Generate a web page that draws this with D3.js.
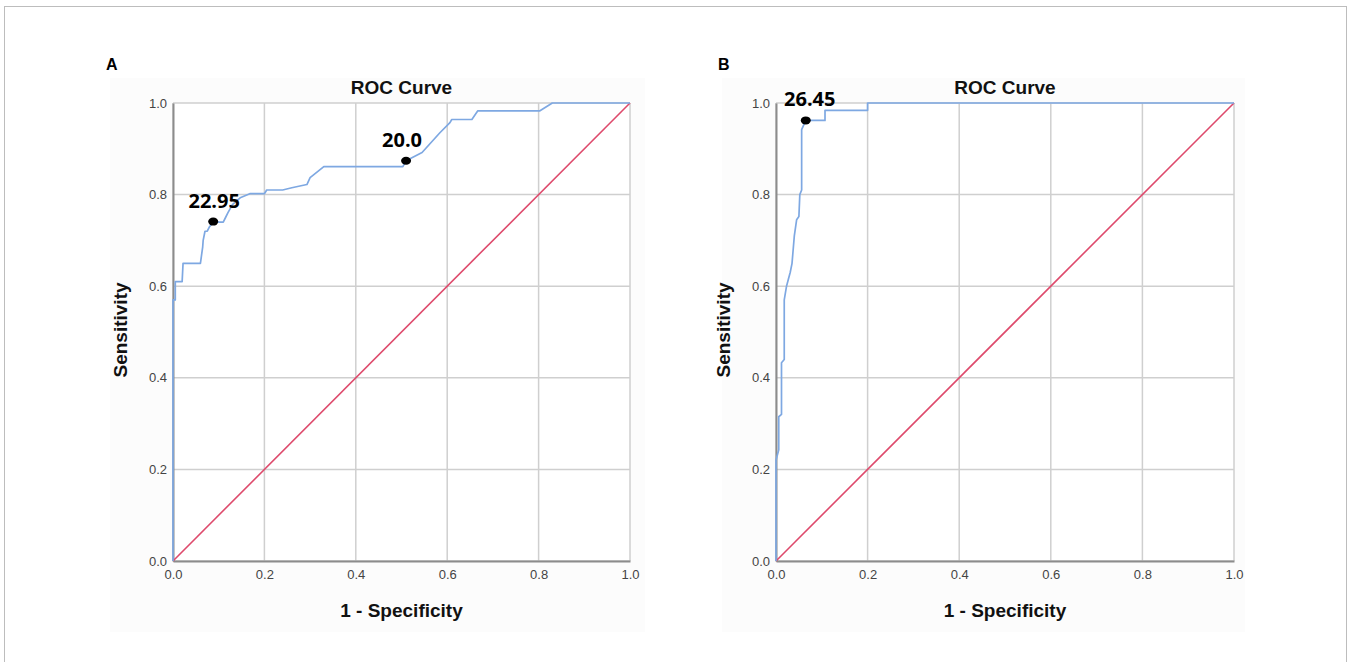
<!DOCTYPE html>
<html>
<head>
<meta charset="utf-8">
<script src="https://cdn.jsdelivr.net/npm/d3@7"></script>
<style>
  body { margin: 0; background: #fff; }
  svg { display: block; }
</style>
</head>
<body>
<svg width="1351" height="662"></svg>
<script>
// ROC points: [1 - specificity, sensitivity]
const rocA = [
  [0, 0], [0, 0.57], [0.005, 0.57], [0.005, 0.61], [0.02, 0.61], [0.022, 0.65],
  [0.06, 0.65], [0.065, 0.686], [0.066, 0.70], [0.07, 0.72], [0.075, 0.72],
  [0.08, 0.73], [0.088, 0.74], [0.11, 0.74], [0.115, 0.75], [0.12, 0.76],
  [0.13, 0.778], [0.147, 0.793], [0.168, 0.802], [0.2, 0.802], [0.205, 0.81],
  [0.24, 0.81], [0.26, 0.815], [0.293, 0.822], [0.30, 0.837], [0.33, 0.861],
  [0.503, 0.861], [0.51, 0.874], [0.545, 0.892], [0.584, 0.935], [0.606, 0.957],
  [0.61, 0.964], [0.654, 0.964], [0.667, 0.983], [0.803, 0.983], [0.83, 1], [1, 1]
];
const rocB = [
  [0, 0], [0, 0.22], [0.006, 0.243], [0.006, 0.315], [0.012, 0.32], [0.012, 0.433],
  [0.018, 0.44], [0.018, 0.57], [0.023, 0.6], [0.027, 0.615], [0.031, 0.63],
  [0.035, 0.65], [0.04, 0.71], [0.045, 0.745], [0.05, 0.752], [0.052, 0.80],
  [0.056, 0.81], [0.056, 0.942], [0.065, 0.962], [0.107, 0.962], [0.107, 0.984],
  [0.2, 0.984], [0.2, 1], [1, 1]
];
const reference = [[0, 0], [1, 1]];
// cut-off points marked on the curves
const cutsA = [{ x: 0.088, y: 0.741, label: "22.95" }, { x: 0.51, y: 0.874, label: "20.0" }];
const cutsB = [{ x: 0.065, y: 0.962, label: "26.45" }];
const ticks = [0, 0.2, 0.4, 0.6, 0.8, 1.0];

const svg = d3.select("svg");

// outer frame
svg.append("rect")
  .attr("x", 4.5).attr("y", 6.5)
  .attr("width", 1342).attr("height", 670)
  .attr("fill", "none").attr("stroke", "#bdbdbd").attr("stroke-width", 1);

function panel(letter, data, cuts, labelShift, left, right, bgX, bgW) {
  const top = 103, bottom = 561;
  const x = d3.scaleLinear().domain([0, 1]).range([left, right]);
  const y = d3.scaleLinear().domain([0, 1]).range([bottom, top]);
  const g = svg.append("g");

  g.append("rect")
    .attr("x", bgX).attr("y", 78).attr("width", bgW).attr("height", 554)
    .attr("fill", "#fcfcfc");
  g.append("rect")
    .attr("x", left).attr("y", top).attr("width", right - left).attr("height", bottom - top)
    .attr("fill", "#fff");

  g.append("text")
    .attr("x", bgX - 4).attr("y", 70)
    .attr("font-family", "Liberation Sans, Arial, sans-serif")
    .attr("font-size", "16px").attr("font-weight", "700")
    .text(letter);

  // grid
  g.selectAll(".vgrid").data(ticks).join("line")
    .attr("x1", (d) => x(d)).attr("x2", (d) => x(d))
    .attr("y1", top).attr("y2", bottom)
    .attr("stroke", "#cfcfcf").attr("stroke-width", 1.5);
  g.selectAll(".hgrid").data(ticks).join("line")
    .attr("class", "hgrid")
    .attr("x1", left).attr("x2", right)
    .attr("y1", (d) => y(d)).attr("y2", (d) => y(d))
    .attr("stroke", "#cfcfcf").attr("stroke-width", 1.5);

  // axes
  const xAxis = g.append("g")
    .attr("transform", `translate(0,${bottom})`)
    .call(d3.axisBottom(x).tickValues(ticks).tickFormat(d3.format(".1f")).tickSize(0).tickPadding(9));
  const yAxis = g.append("g")
    .attr("transform", `translate(${left},0)`)
    .call(d3.axisLeft(y).tickValues(ticks).tickFormat(d3.format(".1f")).tickSize(0).tickPadding(6));
  [xAxis, yAxis].forEach((a) => {
    a.select(".domain").attr("stroke", "#8c8c8c").attr("stroke-width", 2);
    a.selectAll("text")
      .attr("font-family", "Liberation Sans, Arial, sans-serif")
      .attr("font-size", "13px").attr("fill", "#444");
  });

  const line = d3.line().x((d) => x(d[0])).y((d) => y(d[1]));
  g.append("path").datum(reference)
    .attr("d", line).attr("fill", "none")
    .attr("stroke", "#de4a6c").attr("stroke-width", 1.6);
  g.append("path").datum(data)
    .attr("d", line).attr("fill", "none")
    .attr("stroke", "#7ea8e2").attr("stroke-width", 1.7)
    .attr("stroke-linejoin", "round");

  cuts.forEach((c, i) => {
    g.append("ellipse")
      .attr("cx", x(c.x)).attr("cy", y(c.y)).attr("rx", 5).attr("ry", 4)
      .attr("fill", "#000");
    g.append("text")
      .attr("x", x(c.x) + labelShift[i]).attr("y", y(c.y) - 14)
      .attr("text-anchor", "middle")
      .attr("font-family", "Open Sans, sans-serif")
      .attr("font-size", "20px").attr("font-weight", "700")
      .text(c.label);
  });

  const mid = (left + right) / 2;
  g.append("text")
    .attr("x", mid).attr("y", 94).attr("text-anchor", "middle")
    .attr("font-family", "Liberation Sans, Arial, sans-serif")
    .attr("font-size", "19px").attr("font-weight", "700").attr("fill", "#111")
    .text("ROC Curve");
  g.append("text")
    .attr("x", mid).attr("y", 617).attr("text-anchor", "middle")
    .attr("font-family", "Liberation Sans, Arial, sans-serif")
    .attr("font-size", "19px").attr("font-weight", "700").attr("fill", "#111")
    .text("1 - Specificity");
  g.append("text")
    .attr("transform", `translate(${left - 46},${(top + bottom) / 2 - 2}) rotate(-90)`)
    .attr("text-anchor", "middle")
    .attr("font-family", "Liberation Sans, Arial, sans-serif")
    .attr("font-size", "19px").attr("font-weight", "700").attr("fill", "#111")
    .text("Sensitivity");
}

panel("A", rocA, cutsA, [1, -4], 173, 630, 110, 535);
panel("B", rocB, cutsB, [4], 776, 1234, 722, 523);
</script>
</body>
</html>
